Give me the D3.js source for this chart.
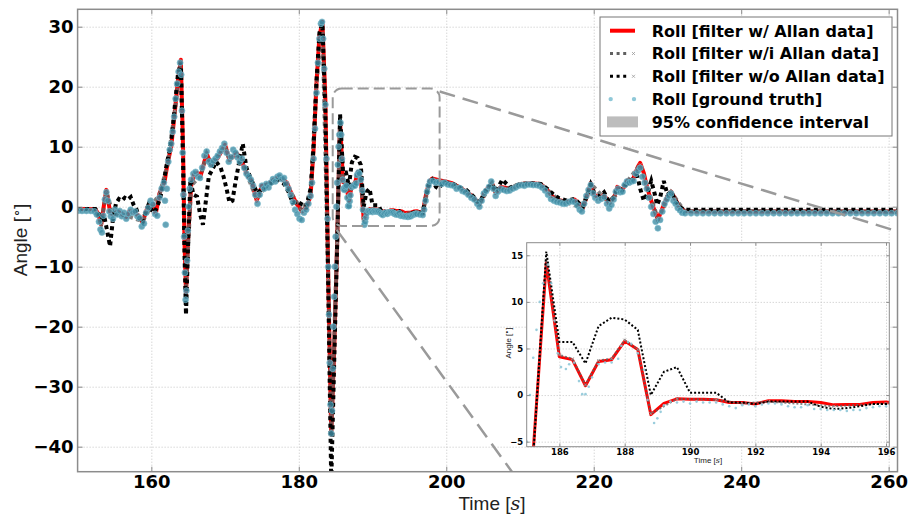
<!DOCTYPE html>
<html lang="en">
<head>
<meta charset="UTF-8">
<title>Roll angle comparison</title>
<script src="https://d3js.org/d3.v7.min.js"></script>
<style>
  body { margin: 0; background: #fff; }
  svg { display: block; }
</style>
</head>
<body>
<div id="chart"></div>
<script>
// ---- data: [time s, roll deg] ----
var rollAllan = [
  [150.0,-0.4],[152.4,-0.4],[152.8,-1.2],[153.2,-3.0],[153.6,0.5],[153.9,2.8],[154.4,-0.8],[154.8,-1.4],[155.4,-0.8],[156.0,-1.2],
  [156.6,-1.7],[157.0,-0.8],[157.5,-0.8],[158.2,-1.4],[158.8,-2.6],[159.5,0.0],[160.2,0.5],[160.6,-1.2],[161.1,2.2],[161.8,4.2],
  [162.2,7.2],[162.7,10.0],[163.2,16.0],[163.6,21.0],[164.0,24.5],[164.3,10.0],[164.5,-6.0],[164.7,-14.5],[165.0,-5.0],[165.4,3.5],
  [165.8,5.4],[166.3,5.6],[166.7,5.2],[167.5,8.9],[168.1,7.0],[169.0,8.1],[170.0,10.3],[170.6,7.8],[171.6,8.9],[172.3,7.5],
  [172.9,5.6],[173.6,4.2],[174.3,1.0],[175.0,3.5],[175.6,3.6],[176.5,4.4],[177.4,5.0],[178.4,4.0],[179.0,2.2],[179.7,0.5],
  [180.4,-0.8],[181.1,0.0],[181.6,1.8],[182.0,9.5],[182.4,20.6],[182.8,28.5],[183.2,30.8],[183.6,18.0],[184.0,-12.0],[184.4,-38.0],
  [184.8,-24.0],[185.2,-6.0],[185.6,14.2],[186.0,4.1],[186.4,3.8],[186.8,1.0],[187.2,3.6],[187.6,3.8],[188.0,5.8],[188.4,4.9],
  [188.8,-2.1],[189.2,-0.9],[189.6,-0.4],[190.0,-0.45],[190.4,-0.45],[190.8,-0.5],[191.2,-0.8],[191.6,-0.8],[192.0,-0.95],[192.4,-0.6],
  [192.8,-0.6],[193.2,-0.7],[193.6,-0.7],[194.0,-0.8],[194.4,-1.05],[194.8,-1.0],[195.2,-1.0],[195.6,-0.8],[196.0,-0.75],[196.8,-1.1],
  [197.2,1.7],[197.7,4.2],[198.1,4.7],[199.0,4.4],[199.9,4.2],[200.8,3.9],[201.7,3.3],[202.7,2.5],[203.6,1.7],[204.5,0.4],
  [205.3,2.6],[206.2,3.9],[206.7,2.3],[207.4,3.3],[208.7,3.0],[210.1,3.8],[211.5,3.9],[212.8,3.8],[213.7,2.8],[214.4,1.7],
  [215.3,1.1],[216.4,0.8],[217.4,1.2],[218.0,0.55],[218.5,-0.3],[219.2,2.2],[219.6,3.9],[220.1,2.0],[220.8,1.4],[221.4,2.0],
  [222.1,0.55],[222.8,1.7],[223.2,3.3],[223.9,2.8],[224.6,4.4],[225.3,4.5],[226.0,6.7],[226.3,7.3],[226.8,5.6],[227.1,3.9],
  [227.6,1.7],[228.2,-0.5],[228.7,-2.2],[229.4,0.0],[230.0,1.7],[230.5,2.5],[231.0,1.4],[231.6,0.0],[232.3,-0.7],[233.7,-0.8],
  [261.2,-0.8]
];

var rollPartAllan = [
  [150.0,-0.4],[152.4,-0.4],[153.2,-2.8],[153.9,2.5],[154.8,-1.2],[156.6,-1.5],[158.8,-2.4],[160.2,0.5],[161.1,2.0],[162.2,7.0],
  [163.2,16.0],[164.0,24.2],[164.7,-14.0],[165.4,3.5],[166.7,5.2],[167.5,8.7],[168.1,7.0],[170.0,10.0],[170.6,7.8],[171.6,8.8],
  [172.9,5.6],[174.3,1.2],[175.6,3.6],[177.4,5.0],[179.0,2.2],[180.4,-0.6],[181.6,1.8],[182.4,20.5],[183.2,30.6],[184.0,-12.0],
  [184.4,-38.0],[185.2,-6.0],[185.6,14.5],[186.0,4.3],[186.4,3.9],[186.8,1.1],[187.2,3.7],[187.6,3.9],[188.0,5.9],[188.4,4.9],
  [188.8,-2.0],[189.6,-0.4],[190.8,-0.5],[191.6,-0.9],[192.4,-0.7],[194.4,-1.2],[196.0,-0.9],[196.8,-1.1],[197.7,4.1],[199.0,4.4],
  [201.7,3.3],[204.5,0.5],[206.2,3.9],[206.7,2.4],[210.1,3.8],[212.8,3.8],[215.3,1.1],[218.5,-0.2],[219.6,3.8],[222.1,0.6],
  [224.6,4.3],[226.3,7.0],[228.7,-2.0],[230.5,2.4],[232.3,-0.7],[261.2,-0.8]
];

var rollNoAllan = [
  [150.0,-0.4],[152.4,-0.4],[152.8,-1.0],[153.2,-2.2],[153.6,-1.5],[154.0,-4.0],[154.4,-6.6],[154.8,-2.0],[155.2,0.5],[155.6,1.3],
  [156.0,1.0],[156.4,1.5],[156.8,1.2],[157.2,1.6],[157.6,0.3],[158.0,-0.5],[158.4,-2.0],[158.8,-2.6],[159.2,-1.0],[159.6,0.3],
  [160.0,-0.5],[160.4,-1.0],[160.8,0.0],[161.2,1.5],[161.6,3.5],[162.0,6.5],[162.4,9.0],[162.8,12.0],[163.2,17.0],[163.6,22.0],
  [164.0,24.0],[164.3,8.0],[164.5,-8.0],[164.7,-18.0],[165.0,-6.0],[165.3,4.5],[165.7,2.0],[166.2,1.7],[166.6,-1.2],[167.0,-3.0],
  [167.4,1.0],[167.8,5.1],[168.2,6.0],[168.8,7.5],[169.4,6.5],[169.8,5.0],[170.2,3.0],[170.6,0.7],[171.0,1.0],[171.4,4.0],
  [171.8,6.7],[172.4,10.5],[172.9,6.5],[173.4,5.0],[174.0,3.2],[174.4,2.2],[175.0,3.0],[175.6,3.4],[176.4,4.0],[177.2,4.5],
  [178.0,3.8],[178.6,2.5],[179.2,0.6],[179.8,0.9],[180.4,0.4],[181.0,0.0],[181.6,3.0],[182.0,10.0],[182.4,21.0],[182.8,29.0],
  [183.2,30.5],[183.6,16.0],[184.0,-14.0],[184.4,-46.0],[184.8,-26.0],[185.2,-6.5],[185.6,15.4],[186.0,5.7],[186.4,5.7],[186.8,3.4],
  [187.2,7.4],[187.6,8.3],[188.0,8.1],[188.4,7.0],[188.8,0.0],[189.2,2.5],[189.6,3.0],[190.0,0.25],[190.4,0.25],[190.8,0.25],
  [191.2,-0.8],[191.6,-0.8],[192.0,-0.95],[192.4,-0.7],[192.8,-0.7],[193.2,-0.7],[193.6,-0.7],[194.0,-1.25],[194.4,-1.5],[194.8,-1.4],
  [195.2,-1.2],[195.6,-0.95],[196.0,-0.95],[196.8,-1.0],[197.2,1.5],[197.7,4.0],[198.1,4.5],[198.6,3.3],[199.0,3.0],[199.5,4.0],
  [200.8,3.9],[201.7,3.3],[202.2,3.0],[202.7,2.8],[203.6,1.8],[204.5,0.6],[205.3,2.6],[206.2,3.9],[206.7,2.5],[207.6,4.5],
  [208.7,3.2],[210.1,3.8],[211.5,3.9],[212.8,3.8],[213.7,3.0],[214.4,2.2],[215.3,1.4],[216.4,1.0],[217.4,1.3],[218.0,0.6],
  [218.5,0.0],[219.2,2.2],[219.6,3.7],[220.1,2.2],[220.8,1.7],[221.4,2.4],[222.1,0.8],[222.8,1.7],[223.2,3.0],[223.9,2.8],
  [224.6,4.0],[225.3,4.6],[225.9,5.2],[226.3,3.0],[226.8,1.0],[227.2,2.0],[227.8,4.3],[228.3,2.0],[228.6,0.3],[229.0,1.5],
  [229.5,4.3],[230.0,2.0],[230.5,2.5],[231.0,1.2],[231.6,0.0],[232.3,-0.5],[261.2,-0.5]
];

var rollTruth = [
  [150.0,-0.7],[150.6,-0.7],[151.2,-0.7],[151.8,-0.7],[152.3,-0.8],[152.6,-1.3],[152.9,-2.5],[153.1,-3.8],[153.3,-4.3],[153.5,-1.5],
  [153.7,1.2],[153.9,2.4],[154.1,1.0],[154.3,-0.8],[154.5,-1.6],[154.8,-2.0],[155.1,-0.5],[155.4,-1.3],[155.7,-0.7],[156.0,-1.6],
  [156.3,-1.0],[156.6,-2.0],[156.9,-1.2],[157.2,-0.5],[157.5,-1.0],[157.8,-0.8],[158.1,-1.6],[158.4,-1.9],[158.7,-3.3],[159.0,-2.8],
  [159.3,-1.0],[159.6,-0.2],[159.9,1.0],[160.2,0.4],[160.5,-1.2],[160.8,-1.5],[161.1,1.5],[161.4,3.0],[161.7,4.0],[161.85,1.0],
  [161.95,-3.0],[162.1,3.0],[162.3,7.5],[162.5,9.5],[162.7,10.5],[162.9,12.5],[163.1,15.0],[163.3,18.0],[163.5,20.5],[163.7,22.5],
  [163.9,24.0],[164.05,22.0],[164.15,16.0],[164.25,9.0],[164.35,2.0],[164.45,-5.0],[164.55,-11.0],[164.65,-15.5],[164.75,-14.0],[164.85,-9.0],
  [164.95,-4.0],[165.05,0.0],[165.2,3.0],[165.4,4.5],[165.7,5.5],[166.0,5.8],[166.3,5.0],[166.6,4.8],[166.9,6.5],[167.2,8.5],
  [167.5,9.2],[167.8,7.5],[168.1,7.0],[168.4,7.6],[168.7,8.0],[169.0,8.5],[169.3,9.2],[169.6,9.8],[169.9,10.5],[170.2,9.0],
  [170.5,7.5],[170.8,8.3],[171.1,9.5],[171.4,9.0],[171.7,8.2],[172.0,7.5],[172.3,8.0],[172.6,6.5],[172.9,5.5],[173.2,5.0],
  [173.5,4.5],[173.8,3.5],[174.1,2.0],[174.4,0.5],[174.7,2.0],[175.0,3.5],[175.3,3.0],[175.6,3.8],[175.9,3.2],[176.2,4.0],
  [176.5,4.6],[176.8,4.2],[177.1,5.0],[177.4,5.2],[177.7,4.6],[178.0,4.8],[178.3,3.8],[178.6,3.0],[178.9,2.0],[179.2,0.8],
  [179.5,-0.5],[179.8,-1.2],[180.1,-2.0],[180.4,-2.2],[180.7,-1.0],[181.0,-0.5],[181.3,0.5],[181.6,1.8],[181.8,4.0],[182.0,8.0],
  [182.2,13.0],[182.4,19.0],[182.6,24.0],[182.8,28.0],[183.0,30.5],[183.15,30.8],[183.3,28.0],[183.45,23.0],[183.6,17.0],[183.75,8.0],
  [183.9,-2.0],[184.0,-10.0],[184.1,-18.0],[184.2,-26.0],[184.3,-33.0],[184.4,-37.8],[184.5,-34.0],[184.6,-27.0],[184.7,-20.0],[184.8,-15.0],
  [184.9,-10.0],[185.0,-5.0],[185.1,0.0],[185.2,4.0],[185.3,7.0],[185.4,10.0],[185.5,12.0],[185.65,14.0],[185.75,12.0],[185.85,8.0],
  [185.95,4.5],[186.05,3.0],[186.2,2.8],[186.3,3.3],[186.45,3.5],[186.6,1.5],[186.7,0.1],[186.8,0.1],[186.9,0.9],[187.0,1.9],
  [187.2,3.3],[187.4,3.5],[187.6,3.5],[187.8,3.9],[187.9,5.3],[188.1,5.7],[188.2,5.5],[188.4,4.5],[188.6,2.7],[188.7,-0.5],
  [188.9,-3.0],[189.0,-2.5],[189.1,-1.8],[189.2,-1.1],[189.4,-0.7],[189.6,-0.8],[189.8,-0.7],[190.0,-0.9],[190.2,-0.7],[190.4,-0.8],
  [190.6,-0.8],[190.8,-0.8],[191.0,-1.0],[191.2,-1.2],[191.4,-1.4],[191.6,-1.1],[191.8,-1.0],[192.0,-1.2],[192.2,-1.0],[192.4,-0.9],
  [192.6,-0.9],[192.8,-1.0],[193.0,-1.2],[193.2,-1.3],[193.4,-1.3],[193.6,-1.1],[193.8,-1.5],[194.0,-1.5],[194.2,-1.6],[194.4,-1.6],
  [194.6,-1.6],[194.8,-1.7],[195.0,-1.6],[195.2,-1.6],[195.4,-1.4],[195.6,-1.3],[195.8,-1.2],[196.0,-1.2],[196.4,-1.3],[196.8,-1.4],
  [197.0,-0.5],[197.2,1.0],[197.4,2.5],[197.6,3.5],[197.8,4.2],[198.2,4.3],[198.6,4.0],[199.0,4.1],[199.4,3.8],[199.8,4.0],
  [200.2,3.7],[200.6,3.6],[201.0,3.5],[201.4,3.0],[201.8,3.1],[202.2,2.6],[202.6,2.4],[203.0,2.0],[203.4,1.5],[203.8,1.2],
  [204.2,0.5],[204.5,0.0],[204.8,1.0],[205.1,2.2],[205.4,2.6],[205.8,3.3],[206.1,4.2],[206.4,3.0],[206.7,1.8],[207.0,2.5],
  [207.4,3.0],[207.8,2.8],[208.2,2.6],[208.6,2.7],[209.0,3.0],[209.4,3.2],[209.8,3.5],[210.2,3.6],[210.6,3.5],[211.0,3.7],
  [211.4,3.7],[211.8,3.6],[212.2,3.6],[212.6,3.5],[213.0,3.2],[213.4,2.7],[213.8,2.0],[214.2,1.3],[214.6,1.0],[215.0,0.8],
  [215.4,0.7],[215.8,0.5],[216.2,0.5],[216.6,0.8],[217.0,0.9],[217.4,0.8],[217.8,0.2],[218.1,-0.5],[218.4,-0.8],[218.7,0.5],
  [219.0,1.8],[219.3,2.8],[219.6,3.6],[219.9,2.2],[220.2,1.5],[220.6,1.0],[221.0,1.3],[221.4,1.6],[221.8,0.5],[222.1,-0.3],
  [222.4,0.3],[222.7,1.2],[223.0,2.5],[223.3,3.0],[223.6,2.4],[223.9,2.5],[224.2,3.6],[224.5,4.2],[224.8,4.0],[225.1,4.2],
  [225.4,4.3],[225.7,5.5],[226.0,6.0],[226.3,6.5],[226.6,5.0],[226.9,4.0],[227.2,3.0],[227.5,1.5],[227.8,0.0],[228.1,-1.2],
  [228.4,-2.5],[228.7,-3.6],[229.0,-2.2],[229.3,-0.8],[229.6,0.5],[229.9,1.2],[230.2,1.8],[230.5,2.2],[230.8,1.0],[231.1,0.5],
  [231.4,-0.2],[231.7,-0.6],[232.0,-1.0],[232.4,-1.1],[233.2,-1.1],[234.0,-1.1],[234.8,-1.1],[235.6,-1.1],[236.4,-1.1],[237.2,-1.1],
  [238.0,-1.1],[238.8,-1.1],[239.6,-1.1],[240.4,-1.1],[241.2,-1.1],[242.0,-1.1],[242.8,-1.1],[243.6,-1.1],[244.4,-1.1],[245.2,-1.1],
  [246.0,-1.1],[246.8,-1.1],[247.6,-1.1],[248.4,-1.1],[249.2,-1.1],[250.0,-1.1],[250.8,-1.1],[251.6,-1.1],[252.4,-1.1],[253.2,-1.1],
  [254.0,-1.1],[254.8,-1.1],[255.6,-1.1],[256.4,-1.1],[257.2,-1.1],[258.0,-1.1],[258.8,-1.1],[259.6,-1.1],[260.4,-1.1],[261.2,-1.1]
];

var timeTicks = [160, 180, 200, 220, 240, 260];
var angleTicks = [-40, -30, -20, -10, 0, 10, 20, 30];
var insetTimeTicks = [186, 188, 190, 192, 194, 196];
var insetAngleTicks = [-5, 0, 5, 10, 15];
var legendLabels = [
  "Roll [filter w/ Allan data]",
  "Roll [filter w/i Allan data]",
  "Roll [filter w/o Allan data]",
  "Roll [ground truth]",
  "95% confidence interval"
];
// zoomed window marked on the main plot: [t0, t1, angle0, angle1]
var zoomWindow = [184.6, 199.1, -3.2, 19.7];

// ---- layout ----
var svg = d3.select("#chart").append("svg")
    .attr("width", 909)
    .attr("height", 519)
    .style("background", "#fff");

var main = { l: 77.6, r: 897.5, t: 9.3, b: 471.7 };
var x = d3.scaleLinear().domain([150, 261.2]).range([main.l, main.r]);
var y = d3.scaleLinear().domain([-44.17, 32.9]).range([main.b, main.t]);

var ins = { l: 526.7, r: 889.3, t: 242.7, b: 446.7 };
var ix = d3.scaleLinear().domain([185, 196.1]).range([ins.l, ins.r]);
var iy = d3.scaleLinear().domain([-5.54, 16.35]).range([ins.b, ins.t]);

var defs = svg.append("defs");
defs.append("clipPath").attr("id", "clip-main").append("rect")
    .attr("x", main.l).attr("y", main.t).attr("width", main.r - main.l).attr("height", main.b - main.t);
defs.append("clipPath").attr("id", "clip-inset").append("rect")
    .attr("x", ins.l).attr("y", ins.t).attr("width", ins.r - ins.l).attr("height", ins.b - ins.t);

function drawGrid(box, xs, ys, xt, yt) {
    var g = svg.append("g");
    g.append("g")
        .attr("transform", "translate(0," + box.b + ")")
        .call(d3.axisBottom(xs).tickValues(xt).tickSize(-(box.b - box.t)).tickFormat(""));
    g.append("g")
        .attr("transform", "translate(" + box.l + ",0)")
        .call(d3.axisLeft(ys).tickValues(yt).tickSize(-(box.r - box.l)).tickFormat(""));
    g.selectAll(".domain").remove();
    g.selectAll(".tick line")
        .attr("stroke", "#c4c4c4")
        .attr("stroke-width", 1)
        .attr("stroke-dasharray", "1,2");
}

function drawSeries(clipId, xs, ys, s) {
    var g = svg.append("g").attr("clip-path", "url(#" + clipId + ")");
    var line = d3.line().x(function (d) { return xs(d[0]); }).y(function (d) { return ys(d[1]); });

    g.append("path").datum(rollAllan)
        .attr("d", line).attr("fill", "none")
        .attr("stroke", "#ff0000").attr("stroke-width", s.red)
        .attr("stroke-linejoin", "round");

    g.append("path").datum(rollPartAllan)
        .attr("d", line).attr("fill", "none")
        .attr("stroke", "#606060").attr("stroke-width", s.dot)
        .attr("stroke-dasharray", s.dash).attr("opacity", 0.8);
    g.selectAll(".xmark").data(rollPartAllan).enter().append("path")
        .attr("transform", function (d) { return "translate(" + xs(d[0]) + "," + ys(d[1]) + ")"; })
        .attr("d", "M-1.5,-1.5L1.5,1.5M-1.5,1.5L1.5,-1.5")
        .attr("stroke", "#9a9a9a").attr("stroke-width", 0.8);

    g.append("path").datum(rollNoAllan)
        .attr("d", line).attr("fill", "none")
        .attr("stroke", "#000").attr("stroke-width", s.dot)
        .attr("stroke-dasharray", s.dash);

    g.selectAll(".truth").data(rollTruth).enter().append("circle")
        .attr("cx", function (d) { return xs(d[0]); })
        .attr("cy", function (d) { return ys(d[1]); })
        .attr("r", s.r)
        .attr("fill", s.truthFill).attr("fill-opacity", s.truthOpacity)
        .attr("stroke", s.truthStroke).attr("stroke-width", s.truthStrokeW).attr("stroke-opacity", 0.8);
    return g;
}

function drawFrame(box, xs, ys, xt, yt, s) {
    var g = svg.append("g");
    var h = box.b - box.t, w = box.r - box.l;
    var axes = [
        g.append("g").attr("transform", "translate(0," + box.b + ")")
            .call(d3.axisBottom(xs).tickValues(xt).tickSizeInner(-s.tick).tickSizeOuter(0).tickPadding(s.padX)),
        g.append("g").attr("transform", "translate(0," + box.t + ")")
            .call(d3.axisTop(xs).tickValues(xt).tickSizeInner(-s.tick).tickSizeOuter(0).tickFormat("")),
        g.append("g").attr("transform", "translate(" + box.l + ",0)")
            .call(d3.axisLeft(ys).tickValues(yt).tickSizeInner(-s.tick).tickSizeOuter(0).tickPadding(s.padY)),
        g.append("g").attr("transform", "translate(" + box.r + ",0)")
            .call(d3.axisRight(ys).tickValues(yt).tickSizeInner(-s.tick).tickSizeOuter(0).tickFormat(""))
    ];
    axes.forEach(function (a) {
        a.attr("font-family", "'DejaVu Sans', sans-serif")
            .attr("font-size", s.font)
            .attr("font-weight", "bold");
        a.select(".domain").remove();
        a.selectAll(".tick line").attr("stroke", "#8c8c8c").attr("stroke-width", 1);
        a.selectAll(".tick text").attr("fill", "#000");
    });
    g.append("rect")
        .attr("x", box.l).attr("y", box.t).attr("width", w).attr("height", h)
        .attr("fill", "none").attr("stroke", "#8c8c8c").attr("stroke-width", s.frame);
}

function axisLabel(text, mathPart, px, py, size, rotate) {
    var t = svg.append("text")
        .attr("text-anchor", "middle")
        .attr("font-family", "'Liberation Sans', Arial, sans-serif")
        .attr("font-size", size)
        .attr("fill", "#222")
        .attr("transform", "translate(" + px + "," + py + ")" + (rotate ? " rotate(-90)" : ""));
    t.append("tspan").text(text + " [");
    if (mathPart === "deg") {
        t.append("tspan").attr("dy", -size * 0.35).attr("font-size", size * 0.7).text("\u2218");
        t.append("tspan").attr("dy", size * 0.35).text("]");
    } else {
        t.append("tspan").attr("font-family", "'DejaVu Serif', serif").attr("font-style", "italic").text(mathPart);
        t.append("tspan").text("]");
    }
}

// ---- main panel ----
drawGrid(main, x, y, timeTicks, angleTicks);
drawSeries("clip-main", x, y, {
    red: 4, dot: 4, dash: "4,3.5", r: 3,
    truthFill: "#3f8ca4", truthOpacity: 0.8, truthStroke: "#7dbccd", truthStrokeW: 0.8
});

// zoom marker: rounded dashed box and connector lines
var zoomG = svg.append("g").attr("clip-path", "url(#clip-main)");
zoomG.append("rect")
    .attr("x", x(zoomWindow[0])).attr("y", y(zoomWindow[3]))
    .attr("width", x(zoomWindow[1]) - x(zoomWindow[0]))
    .attr("height", y(zoomWindow[2]) - y(zoomWindow[3]))
    .attr("rx", 9).attr("ry", 9)
    .attr("fill", "none").attr("stroke", "#9a9a9a").attr("stroke-width", 2)
    .attr("stroke-dasharray", "11,5");
zoomG.append("line")
    .attr("x1", x(zoomWindow[1])).attr("y1", y(zoomWindow[3]) + 3)
    .attr("x2", x(261.2)).attr("y2", y(-4.1))
    .attr("stroke", "#9a9a9a").attr("stroke-width", 2.5).attr("stroke-dasharray", "16,8");
zoomG.append("line")
    .attr("x1", x(zoomWindow[0]) + 4).attr("y1", y(zoomWindow[2]) + 4)
    .attr("x2", x(208.9)).attr("y2", y(-44.17))
    .attr("stroke", "#9a9a9a").attr("stroke-width", 2.5).attr("stroke-dasharray", "16,8");

drawFrame(main, x, y, timeTicks, angleTicks, { tick: 5, padX: 4, padY: 4, font: 18, frame: 1.5 });
axisLabel("Time", "s", 492, 510, 19, false);
axisLabel("Angle", "deg", 27, 240, 19, true);

// ---- legend ----
var leg = svg.append("g").attr("transform", "translate(600,17)");
leg.append("rect").attr("width", 292).attr("height", 119)
    .attr("fill", "#fff").attr("stroke", "#777").attr("stroke-width", 1);
legendLabels.forEach(function (label, i) {
    var ry = 13.7 + i * 22.8;
    var row = leg.append("g").attr("transform", "translate(0," + ry + ")");
    if (i === 0) {
        row.append("line").attr("x1", 10).attr("x2", 35).attr("stroke", "#ff0000").attr("stroke-width", 4);
    } else if (i === 1 || i === 2) {
        row.append("line").attr("x1", 10).attr("x2", 29)
            .attr("stroke", i === 1 ? "#606060" : "#000").attr("stroke-width", 3).attr("stroke-dasharray", "3,3.6");
        row.append("path").attr("d", "M32,-1.5L35,1.5M32,1.5L35,-1.5").attr("stroke", "#9a9a9a").attr("stroke-width", 0.8);
    } else if (i === 3) {
        [10.7, 34].forEach(function (cx) {
            row.append("circle").attr("cx", cx).attr("r", 2.2).attr("fill", "#8fc8d8");
        });
    } else {
        row.append("rect").attr("x", 7).attr("y", -5.5).attr("width", 31).attr("height", 11).attr("fill", "#bdbdbd");
    }
    row.append("text")
        .attr("x", 51.7).attr("y", 5.8)
        .attr("font-family", "'DejaVu Sans', sans-serif")
        .attr("font-size", 16).attr("font-weight", "bold")
        .attr("fill", "#000")
        .text(label);
});

// ---- inset ----
svg.append("rect")
    .attr("x", ins.l).attr("y", ins.t).attr("width", ins.r - ins.l).attr("height", ins.b - ins.t)
    .attr("fill", "#fff");
drawGrid(ins, ix, iy, insetTimeTicks, insetAngleTicks);
drawSeries("clip-inset", ix, iy, {
    red: 3, dot: 2, dash: "2,2", r: 1.3,
    truthFill: "#8fc8d8", truthOpacity: 0.9, truthStroke: "none", truthStrokeW: 0
});
drawFrame(ins, ix, iy, insetTimeTicks, insetAngleTicks, { tick: 3, padX: 2.5, padY: 3.5, font: 8.5, frame: 1 });
axisLabel("Time", "s", 708, 463, 8, false);
axisLabel("Angle", "deg", 511, 343, 8, true);
</script>
</body>
</html>
